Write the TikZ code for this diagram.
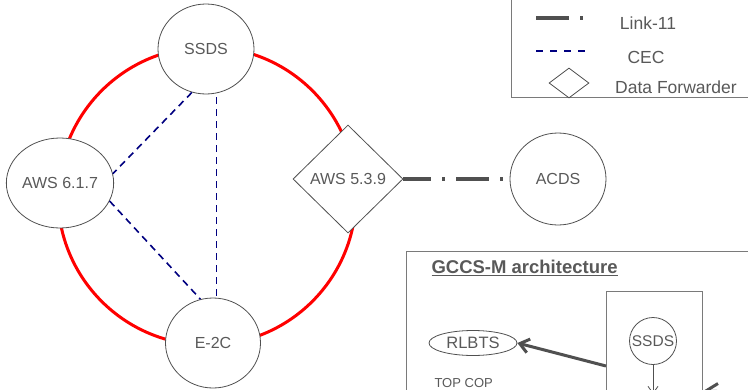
\documentclass[tikz,border=0pt]{standalone}
\usepackage{fontspec}
\setmainfont{Liberation Sans}
\usetikzlibrary{shapes.geometric,arrows.meta}
\definecolor{txtgray}{HTML}{595959}
\definecolor{linegray}{HTML}{505050}
\definecolor{boxgray}{HTML}{7A7A7A}
\definecolor{cecblue}{HTML}{000080}
\tikzset{
  nodefont/.style={font=\fontsize{16}{18}\selectfont, text=txtgray},
  legfont/.style={font=\fontsize{17.5}{19}\selectfont, text=txtgray},
  ell/.style={ellipse, draw=linegray, line width=0.8pt, fill=white, inner sep=0pt, nodefont},
  dia/.style={diamond, draw=linegray, line width=0.8pt, fill=white, inner sep=0pt, nodefont},
  ring/.style={draw=red, line width=3pt},
  cec/.style={draw=cecblue, line width=1.6pt, dash pattern=on 7pt off 5pt},
  link/.style={draw=linegray, line width=4pt, dash pattern=on 33pt off 11pt on 3pt off 11pt},
  box/.style={draw=boxgray, line width=1pt},
  bigarrow/.style={draw=linegray, line width=3pt, -{Straight Barb[length=9pt,width=14pt]}},
  thinarrow/.style={draw=linegray, line width=0.8pt, -{Straight Barb[length=7pt,width=10pt]}}
}
\begin{document}
\begin{tikzpicture}[x=1pt,y=-1pt]
\useasboundingbox (0,0) rectangle (748,389);
\clip (0,0) rectangle (748,389);
\fill[white] (0,0) rectangle (748,389);

% red ring
\draw[ring] (207,196) circle[radius=149pt];

% main nodes
\node[ell, minimum width=96pt, minimum height=90pt] (ssds) at (206,49) {\raisebox{-5pt}{SSDS}};
\node[ell, minimum width=96pt, minimum height=90pt] (aws617) at (60,183) {AWS 6.1.7};
\node[ell, minimum width=95pt, minimum height=90pt] (e2c) at (213,343) {E-2C};
\node[dia, minimum width=110pt, minimum height=108pt] (aws539) at (348,179) {AWS 5.3.9};
\node[ell, minimum width=96pt, minimum height=92pt] (acds) at (558,179) {ACDS};

% CEC links
\draw[cec] (ssds.252) -- (aws617.10);
\draw[cec] ([xshift=10.5pt,yshift=-3pt]ssds.south) -- ([xshift=3.5pt]e2c.north);
\draw[cec] (aws617.340) -- (e2c.106);

% Link-11
\draw[link, dash phase=5pt] (aws539.east) -- (acds.west);

% legend
\draw[box] (511,-10) rectangle (760,97);
\coordinate (l1a) at (536,18);
\coordinate (l1b) at (584,18);
\draw[link] (l1a) -- (l1b);
\node[legfont] (l1t) at (648,23) {Link-11};
\coordinate (l2a) at (536,51);
\coordinate (l2b) at (588,51);
\draw[cec, dash pattern=on 7pt off 7pt] (l2a) -- (l2b);
\node[legfont] (l2t) at (646,57) {CEC};
\node[diamond, draw=linegray, line width=0.8pt, inner sep=0pt, minimum width=40pt, minimum height=30pt] (l3d) at (569,83) {};
\node[legfont] (l3t) at (676,87) {Data Forwarder};

% GCCS-M architecture box
\draw[box] (406,251) rectangle (760,400);
\node[font=\bfseries\fontsize{18.5}{20}\selectfont, text=txtgray, anchor=west] (title) at (428,268) {\underline{GCCS-M architecture}};
\draw[box] (606,291) rectangle (702,400);
\node[ell, circle, minimum size=47pt, font=\fontsize{15.5}{17}\selectfont] (issds) at (653,341) {SSDS};
\node[ell, minimum width=88pt, minimum height=25pt, font=\fontsize{16.5}{18}\selectfont] (rlbts) at (473,343) {RLBTS};
\node[font=\fontsize{13}{15}\selectfont, text=txtgray, anchor=west] (topcop) at (431,383) {TOP COP};
\coordinate (arrA) at (606,366);
\draw[bigarrow] (arrA) -- (rlbts.east);
\coordinate (dn) at (653,394);
\draw[thinarrow] (issds.south) -- (dn);
\coordinate (rs) at (760,393);
\coordinate (re) at (703,391);
\draw[draw=linegray, line width=3pt, -{Straight Barb[length=12pt,width=16pt]}] (rs) -- (re);
\end{tikzpicture}
\end{document}
